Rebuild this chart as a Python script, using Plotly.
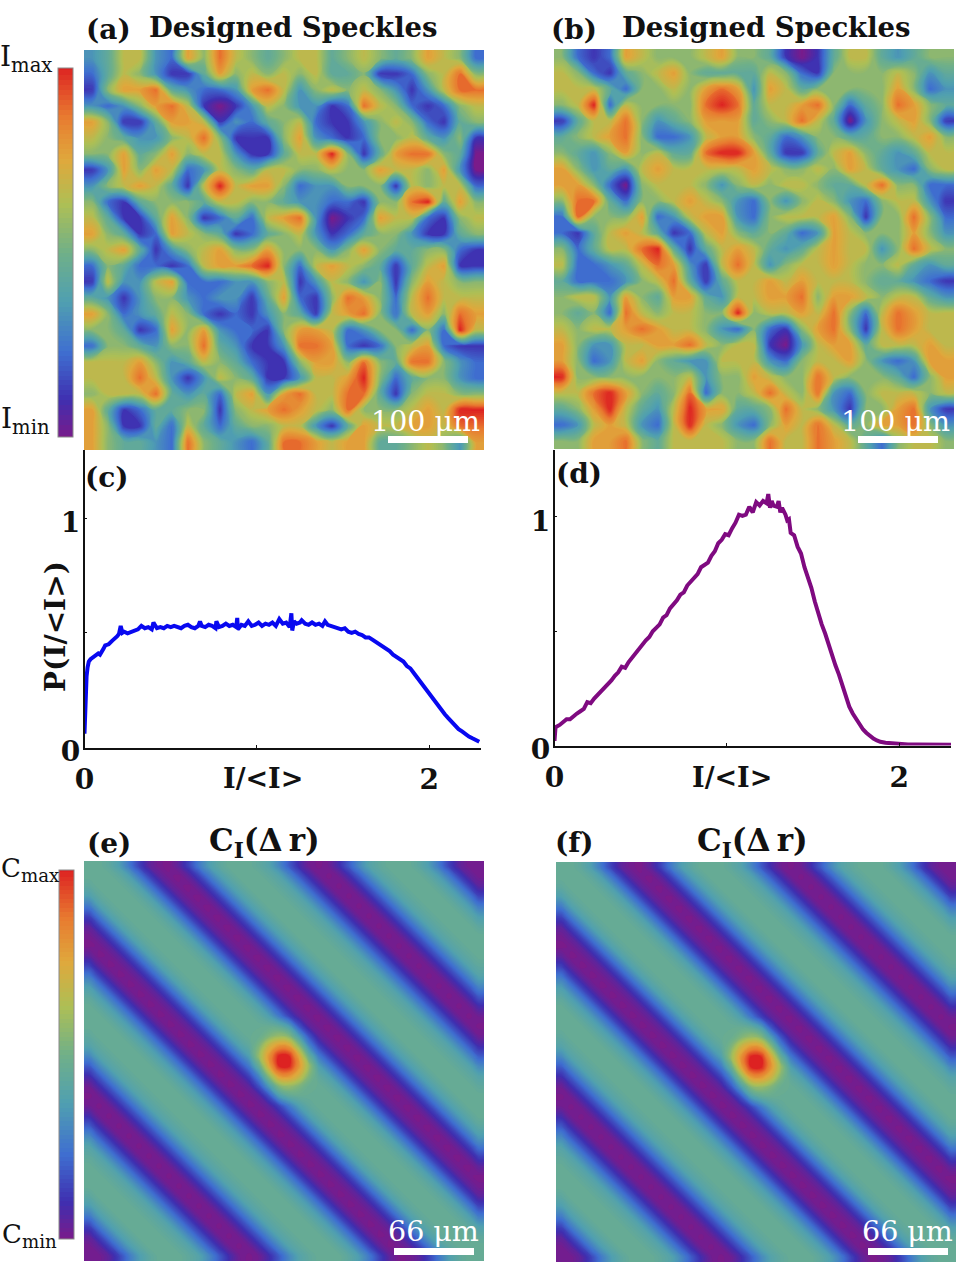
import plotly.graph_objects as go

W, H = 956, 1268

# Intensity maps on a coarse 25 x 25 grid, levels 0 (lowest) to 9 (highest); rows run top to bottom.
speckle_a = [
    [3,4,6,6,3,2,7,5,8,6,5,4,5,6,6,4,5,6,5,4,5,7,6,5,2],
    [2,4,6,5,3,1,1,4,7,5,6,5,6,5,6,4,4,5,1,1,2,5,6,8,5],
    [1,5,7,7,8,4,3,2,2,3,7,8,6,3,5,6,5,6,5,3,1,3,6,8,8],
    [3,2,3,5,7,8,6,1,0,1,3,6,5,3,3,1,2,8,6,5,2,1,2,5,6],
    [7,5,1,1,4,7,7,6,1,3,2,4,5,6,2,1,1,3,5,6,5,2,1,4,5],
    [6,5,4,3,3,5,6,8,5,1,1,1,5,7,3,2,1,2,5,5,6,4,3,5,1],
    [5,5,7,4,5,7,5,6,6,3,1,1,4,6,6,9,5,1,4,7,8,8,5,4,0],
    [1,3,7,5,7,6,2,3,6,5,4,6,6,5,5,6,5,5,7,6,6,5,7,3,0],
    [3,5,6,7,6,4,1,6,9,6,7,7,5,2,3,3,5,5,5,1,6,5,6,6,2],
    [5,2,1,4,5,5,5,4,6,6,5,5,4,3,3,2,2,1,5,5,8,9,4,7,5],
    [6,4,1,1,4,7,5,1,2,4,2,6,7,8,3,0,1,2,7,6,6,2,1,5,6],
    [7,5,4,1,2,7,6,5,4,1,2,4,5,6,3,1,2,4,5,5,3,1,1,4,5],
    [5,6,7,4,1,3,5,6,7,5,5,7,5,5,5,3,5,7,5,4,4,5,5,2,1],
    [2,5,4,2,2,1,2,6,7,7,8,9,5,2,6,7,6,5,4,1,4,6,7,1,1],
    [1,6,3,3,6,7,2,2,2,3,3,5,6,1,3,6,5,3,5,1,5,7,6,5,5],
    [4,3,1,3,5,5,3,2,3,3,1,4,7,2,1,5,8,7,5,2,6,8,6,6,6],
    [7,5,2,3,4,6,5,2,1,2,1,3,5,4,1,6,7,8,5,2,6,7,5,8,7],
    [5,5,4,1,2,7,5,7,3,2,2,1,5,7,7,6,2,3,5,5,2,5,2,9,6],
    [2,5,5,4,3,5,5,8,4,3,1,1,3,8,8,7,2,1,2,5,6,7,2,1,1],
    [6,6,6,7,5,3,4,6,5,4,2,1,1,5,7,7,5,8,5,4,8,8,5,3,2],
    [6,6,6,8,6,3,1,3,6,5,4,1,1,3,6,6,7,9,5,2,4,5,5,3,2],
    [5,6,6,6,8,4,3,4,2,6,7,3,7,8,6,6,8,8,4,1,5,6,6,5,5],
    [7,4,1,2,4,4,5,5,1,5,6,7,8,7,6,5,8,5,5,5,6,7,6,9,9],
    [7,5,1,1,4,2,6,4,2,4,5,5,6,6,3,1,4,7,6,6,7,7,6,8,8],
    [7,5,4,4,3,2,8,5,4,3,2,4,8,8,7,6,7,7,4,4,5,6,5,3,7],
]

speckle_b = [
    [5,2,1,2,7,6,5,5,5,6,7,5,5,4,1,0,1,4,6,6,4,3,4,5,5],
    [6,5,2,1,4,5,6,7,5,4,4,4,4,6,5,2,1,5,5,5,5,6,5,3,4],
    [6,6,6,4,2,5,5,6,5,7,8,7,3,7,6,4,5,5,5,5,5,7,5,2,3],
    [5,6,9,2,6,5,5,5,5,8,9,8,4,6,6,7,8,5,2,4,5,8,7,5,4],
    [1,4,6,6,8,5,3,4,5,7,7,7,4,5,6,8,6,4,0,3,5,6,7,5,1],
    [4,5,6,7,8,5,2,2,3,6,7,7,5,4,2,3,5,5,4,4,5,5,6,7,5],
    [5,4,3,5,7,5,6,4,4,8,9,9,7,4,1,1,4,6,7,5,4,3,4,6,6],
    [7,5,3,4,3,6,7,6,6,6,6,6,7,6,5,5,6,5,7,6,4,3,2,5,6],
    [7,7,5,2,0,5,6,6,6,5,3,5,6,5,6,6,5,4,4,6,8,5,5,2,2],
    [5,8,8,4,2,5,5,6,7,6,5,3,2,5,3,5,6,5,3,2,5,6,6,3,1],
    [2,8,5,5,5,7,2,3,6,7,7,3,2,5,6,6,6,7,5,1,5,5,8,5,2],
    [2,1,4,6,7,6,4,1,2,6,7,5,4,5,4,2,3,7,6,5,5,5,7,5,3],
    [5,2,4,6,6,8,9,4,1,4,6,7,6,4,3,4,6,7,6,6,3,5,8,6,5],
    [6,2,2,3,4,6,8,7,3,1,6,8,6,3,5,6,6,7,6,5,5,6,4,3,4],
    [4,2,2,2,3,5,6,8,4,1,4,6,6,7,6,7,6,6,6,5,4,4,3,2,1],
    [5,6,6,3,7,5,4,7,7,4,3,6,6,7,7,8,5,7,7,6,5,6,6,4,3],
    [5,4,5,2,8,6,5,6,6,5,5,9,5,6,6,7,6,8,5,2,6,8,7,6,6],
    [6,5,6,6,7,8,7,6,6,5,3,2,5,2,1,5,7,8,5,1,6,8,7,6,6],
    [7,5,3,3,6,6,7,7,8,6,5,6,6,1,0,3,6,7,7,4,6,6,6,7,6],
    [7,5,2,3,6,7,5,4,3,3,6,6,6,3,2,5,6,6,7,5,3,2,3,7,7],
    [9,5,5,5,5,5,5,5,6,3,5,5,7,6,5,5,8,6,5,5,5,4,2,5,7],
    [6,6,8,9,7,5,4,5,8,2,5,5,6,8,6,5,8,3,2,5,6,6,6,5,6],
    [4,5,7,9,6,4,3,6,9,7,7,4,4,5,8,6,5,3,1,5,5,7,8,3,1],
    [2,3,6,7,6,3,2,6,9,6,5,3,2,5,7,6,8,6,4,5,7,7,8,5,3],
    [5,5,7,7,8,5,4,6,6,6,6,5,5,8,6,6,8,7,6,4,2,5,6,6,5],
]

# Correlation map: level along each diagonal of a 40 x 40 grid, from offset -39 to +39.
corr_diagonal = [
    .01,.01,.05,.14,.26,.36,.42,.46,.46,.46,.43,.39,.30,.19,.09,.02,0,.02,.09,.19,
    .30,.39,.43,.46,.46,.46,.42,.36,.26,.14,.05,0,.01,.05,.14,.26,.37,.43,.46,.46,
    .46,.43,.37,.26,.14,.05,.01,0,.05,.14,.26,.36,.42,.46,.46,.46,.43,.39,.30,.19,
    .09,.02,0,.02,.09,.19,.30,.39,.43,.46,.46,.46,.42,.36,.26,.14,.05,.01,.01,
]

# Central correlation peak, the 8 x 8 cells around the middle of the grid.
corr_peak = [
    [.46,.46,.46,.44,.36,.17,.05,.01],
    [.46,.47,.53,.58,.54,.36,.17,.05],
    [.43,.53,.70,.80,.78,.56,.30,.14],
    [.37,.58,.80,1.0,.99,.75,.46,.26],
    [.26,.46,.75,.99,1.0,.80,.58,.37],
    [.14,.30,.56,.78,.80,.70,.53,.43],
    [.05,.17,.36,.54,.58,.53,.47,.46],
    [.01,.05,.17,.36,.44,.46,.46,.46],
]

# Intensity histogram of the first pattern.
hist_c_x = [0,.004,.008,.012,.018,.025,.035,.05,.065,.08,.09,.10,.11,.12,.14,.16,.18,.19,.20,.21,.22,.23,.25,.27,.29,.31,.33,.35,.37,.39,.40,.41,.42,.44,.46,.48,.50,.52,.54,.56,.58,.60,.62,.64,.66,.67,.68,.70,.72,.74,.76,.765,.78,.80,.82,.84,.86,.88,.886,.89,.91,.93,.95,.97,.99,1.01,1.03,1.05,1.07,1.09,1.11,1.13,1.15,1.17,1.19,1.20,1.205,1.215,1.23,1.25,1.26,1.28,1.30,1.32,1.34,1.36,1.38,1.395,1.41,1.43,1.45,1.47,1.49,1.51,1.53,1.55,1.57,1.59,1.61,1.63,1.65,1.67,1.69,1.71,1.73,1.75,1.77,1.79,1.81,1.83,1.85,1.87,1.89,1.91,1.93,1.95,1.97,1.99,2.01,2.03,2.05,2.07,2.09,2.11,2.13,2.15,2.17,2.19,2.21,2.23,2.25,2.27,2.29]
hist_c_y = [.06,.16,.25,.31,.35,.375,.385,.395,.40,.41,.405,.415,.43,.445,.45,.465,.475,.485,.495,.53,.50,.505,.498,.505,.512,.515,.53,.52,.525,.515,.545,.53,.52,.525,.52,.53,.525,.53,.525,.52,.53,.535,.525,.52,.53,.55,.53,.525,.535,.53,.52,.55,.525,.53,.54,.53,.535,.525,.565,.515,.535,.53,.55,.53,.535,.545,.53,.54,.535,.545,.53,.56,.54,.545,.525,.585,.51,.55,.54,.545,.555,.54,.535,.545,.535,.54,.53,.55,.535,.53,.525,.52,.515,.52,.505,.50,.505,.495,.49,.48,.48,.47,.46,.455,.44,.43,.42,.405,.395,.385,.375,.355,.345,.325,.305,.285,.265,.245,.222,.20,.18,.16,.145,.128,.11,.097,.08,.07,.058,.048,.04,.03,.025]

# Intensity histogram of the second pattern.
hist_d_x = [0,.006,.03,.05,.07,.09,.11,.13,.15,.17,.19,.21,.23,.25,.27,.29,.31,.33,.35,.37,.39,.41,.43,.45,.47,.49,.51,.53,.55,.57,.59,.61,.63,.65,.67,.69,.71,.73,.75,.77,.79,.81,.83,.85,.87,.89,.91,.93,.95,.97,.99,1.01,1.03,1.05,1.07,1.09,1.11,1.13,1.15,1.17,1.19,1.21,1.23,1.24,1.25,1.26,1.27,1.29,1.30,1.31,1.32,1.34,1.35,1.36,1.37,1.39,1.41,1.43,1.45,1.47,1.49,1.51,1.53,1.55,1.57,1.59,1.61,1.63,1.65,1.67,1.69,1.71,1.73,1.75,1.77,1.79,1.81,1.83,1.85,1.87,1.89,1.92,1.96,2.0,2.05,2.1,2.15,2.2,2.25,2.3]
hist_d_y = [.02,.08,.09,.10,.115,.115,.13,.14,.15,.16,.19,.185,.205,.22,.235,.25,.265,.285,.305,.32,.345,.34,.365,.385,.405,.42,.44,.46,.475,.50,.515,.53,.56,.57,.60,.615,.635,.66,.67,.70,.715,.73,.75,.78,.79,.80,.83,.85,.885,.90,.925,.92,.95,.975,1.01,1.005,1.01,1.045,1.02,1.065,1.05,1.07,1.06,1.10,1.04,1.07,1.05,1.045,1.07,1.02,1.04,1.01,.985,.99,.93,.92,.87,.84,.78,.74,.69,.63,.575,.53,.49,.44,.39,.35,.31,.26,.215,.17,.14,.115,.09,.07,.055,.04,.03,.022,.016,.012,.009,.006,.004,.004,.003,.003,.003,.003]

scale_texts = ["100 μm", "100 μm", "66 μm", "66 μm"]

colours = [
    [0.00, "#7a1b8a"], [0.10, "#3f2fb0"], [0.23, "#3f6fd0"], [0.37, "#50a0b0"],
    [0.50, "#70b088"], [0.63, "#aebf55"], [0.75, "#dfa83c"], [0.87, "#e87a30"],
    [1.00, "#dd2222"],
]

SERIF = "DejaVu Serif"
INK = "#111111"


def fx(px):
    return px / W


def fy(px):
    return 1 - px / H


def correlation_grid():
    n = 40
    grid = [[corr_diagonal[col - row + n - 1] for col in range(n)] for row in range(n)]
    for r, row in enumerate(corr_peak):
        for c, value in enumerate(row):
            grid[16 + r][16 + c] = value
    return grid


def pad_edges(z):
    """Repeat the outer rows and columns so the contours reach the panel border."""
    rows = [z[0]] + z + [z[-1]]
    return [[r[0]] + r + [r[-1]] for r in rows]


fig = go.Figure()
corr = correlation_grid()

# (suffix, z, coloraxis, level step, left, top) for the four square maps, each 400 px across.
maps = [
    ("", speckle_a, "coloraxis", 0.12, 84, 50),
    ("2", speckle_b, "coloraxis", 0.12, 554, 49),
    ("5", corr, "coloraxis2", 0.012, 84, 861),
    ("6", corr, "coloraxis2", 0.012, 556, 862),
]
layout = {}
for suffix, z, axis, step, left, top in maps:
    n = len(z)
    coords = [-0.5] + list(range(n)) + [n - 0.5]
    top_level = max(max(r) for r in z)
    fig.add_trace(go.Contour(
        z=pad_edges(z), x=coords, y=coords, coloraxis=axis,
        contours=dict(coloring="fill", start=step / 2, end=top_level, size=step, showlines=False),
        line=dict(width=0, smoothing=1.3),
        xaxis="x" + suffix, yaxis="y" + suffix, hoverinfo="skip",
    ))
    layout["xaxis" + suffix] = dict(domain=[fx(left), fx(left + 400)], range=[-0.5, n - 0.5],
                                    visible=False, anchor="y" + suffix)
    layout["yaxis" + suffix] = dict(domain=[fy(top + 400), fy(top)], range=[n - 0.5, -0.5],
                                    visible=False, anchor="x" + suffix)

# Histogram panels: (suffix, x, y, colour, left, right, top, bottom, ymax)
panels = [
    ("3", hist_c_x, hist_c_y, "#0808f0", 84.5, 481, 450, 747.5, 1.297),
    ("4", hist_d_x, hist_d_y, "#7f0a80", 554.5, 951, 450, 745.5, 1.293),
]
tick_font = dict(family=SERIF, size=28, color=INK, weight="bold")
for suffix, xs, ys, colour, left, right, top, bottom, ymax in panels:
    fig.add_trace(go.Scatter(
        x=xs, y=ys, mode="lines", line=dict(color=colour, width=4),
        xaxis="x" + suffix, yaxis="y" + suffix, hoverinfo="skip", showlegend=False,
    ))
    layout["xaxis" + suffix] = dict(
        domain=[fx(left), fx(right)], range=[0, 2.3], anchor="y" + suffix,
        tickvals=[0, 2], ticktext=["0", "2"], ticks="inside", ticklen=3, tickwidth=1,
        minor=dict(tickvals=[1], ticks="inside", ticklen=3, tickwidth=1, tickcolor=INK),
        tickcolor=INK, showline=True, linecolor=INK, linewidth=1.5, showgrid=False,
        zeroline=False, tickfont=tick_font, ticklabelstandoff=6,
    )
    layout["yaxis" + suffix] = dict(
        domain=[fy(bottom), fy(top)], range=[0, ymax], anchor="x" + suffix,
        tickvals=[0, 1], ticktext=["0", "1"], ticks="inside", ticklen=3, tickwidth=1,
        minor=dict(tickvals=[0.5], ticks="inside", ticklen=3, tickwidth=1, tickcolor=INK),
        tickcolor=INK, showline=True, linecolor=INK, linewidth=1.5, showgrid=False,
        zeroline=False, tickfont=tick_font, ticklabelstandoff=-3, ticklabelshift=4,
    )


def colourbar(left, top, bottom):
    return dict(
        x=fx(left), xanchor="left", xpad=0, y=fy((top + bottom) / 2), yanchor="middle", ypad=0,
        len=bottom - top, lenmode="pixels", thickness=14.5, thicknessmode="pixels",
        outlinecolor="#8a8a8a", outlinewidth=1, ticks="", showticklabels=False,
    )


def text(s, x, y, size, bold=True, colour=INK, angle=0):
    return dict(
        text=s, x=fx(x), y=fy(y), xref="paper", yref="paper", xanchor="center", yanchor="middle",
        showarrow=False, textangle=angle,
        font=dict(family=SERIF, size=size, color=colour, weight="bold" if bold else "normal"),
    )


annotations = [
    text("(a)", 108, 30, 28), text("Designed Speckles", 293, 27, 27.5),
    text("(b)", 574, 30, 28), text("Designed Speckles", 766, 27, 27.5),
    text("(c)", 107, 477, 28), text("(d)", 579, 473, 28),
    text("(e)", 109, 843, 28), text("C<sub>I</sub>(Δ\u2009r)", 264, 842, 31),
    text("(f)", 574, 842, 28), text("C<sub>I</sub>(Δ\u2009r)", 752, 842, 31),
    text("I/&lt;I&gt;", 263, 778, 27), text("I/&lt;I&gt;", 732, 777, 27),
    text("P(I/&lt;I&gt;)", 55, 627, 28, angle=-90),
    text("I<sub>max</sub>", 26, 58, 28, bold=False), text("I<sub>min</sub>", 25, 421, 28, bold=False),
    text("C<sub>max</sub>", 30, 870, 26, bold=False), text("C<sub>min</sub>", 29, 1235, 26, bold=False),
    text(scale_texts[0], 425, 422, 28.5, bold=False, colour="white"),
    text(scale_texts[1], 895, 422, 28.5, bold=False, colour="white"),
    text(scale_texts[2], 433, 1231, 28.5, bold=False, colour="white"),
    text(scale_texts[3], 907, 1231, 28.5, bold=False, colour="white"),
]

# White scale bars drawn over the maps.
bars = [(388, 468, 436, 443), (858, 938, 436, 443), (394, 474, 1248, 1255), (868, 948, 1248, 1255)]
shapes = [
    dict(type="rect", xref="paper", yref="paper", x0=fx(a), x1=fx(b), y0=fy(d), y1=fy(c),
         fillcolor="white", line_width=0, layer="above")
    for a, b, c, d in bars
]

fig.update_layout(
    width=W, height=H, autosize=False, margin=dict(l=0, r=0, t=0, b=0, autoexpand=False),
    paper_bgcolor="white", plot_bgcolor="white", showlegend=False,
    coloraxis=dict(colorscale=colours, cmin=0.6, cmax=9, colorbar=colourbar(57.5, 68, 437)),
    coloraxis2=dict(colorscale=colours, cmin=0, cmax=1, colorbar=colourbar(59, 870, 1239)),
    annotations=annotations, shapes=shapes, **layout,
)

fig.write_html("out.html")
